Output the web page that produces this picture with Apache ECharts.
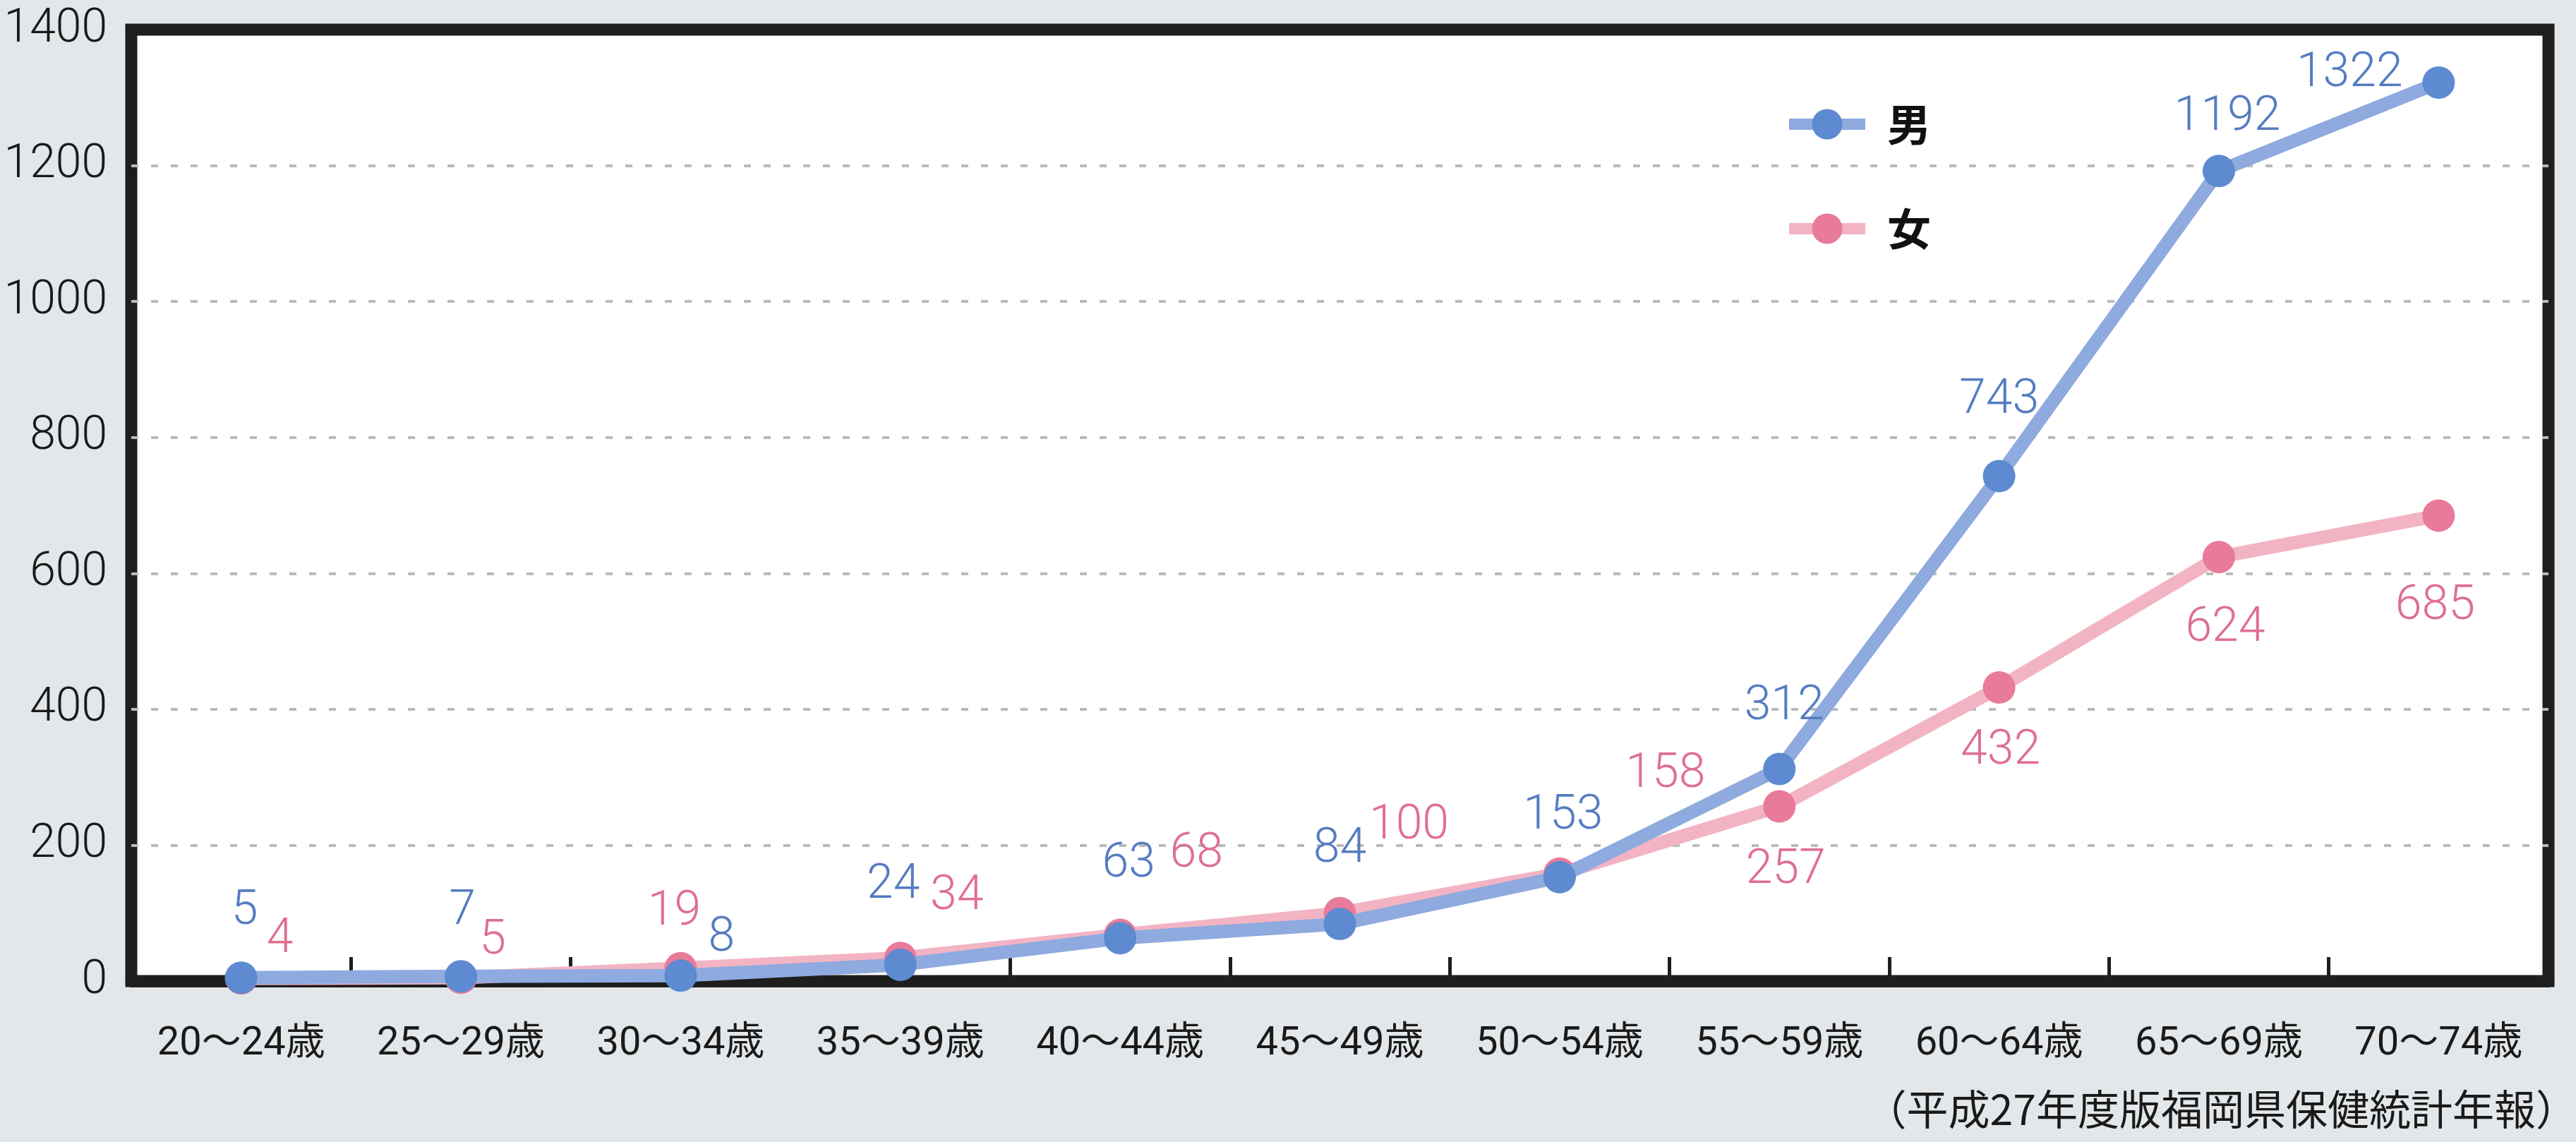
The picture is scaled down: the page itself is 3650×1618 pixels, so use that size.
<!DOCTYPE html>
<html>
<head>
<meta charset="utf-8">
<script src="https://cdn.jsdelivr.net/npm/echarts@6/dist/echarts.min.js"></script>
<style>
html,body{margin:0;padding:0;background:#e3e7ea;}
#chart{width:3650px;height:1618px;}
</style>
</head>
<body>
<div id="chart"></div>
<script>
const categories = ['20～24歳','25～29歳','30～34歳','35～39歳','40～44歳','45～49歳','50～54歳','55～59歳','60～64歳','65～69歳','70～74歳'];
const maleValues = [5, 7, 8, 24, 63, 84, 153, 312, 743, 1192, 1322];
const femaleValues = [4, 5, 19, 34, 68, 100, 158, 257, 432, 624, 685];
const yTicks = [0, 200, 400, 600, 800, 1000, 1200, 1400];
const sourceNote = '（平成27年度版福岡県保健統計年報）';

// label offsets (style only), in px relative to the point
const maleLabelOffsets = [[5,-93],[2,-91],[58,-52],[-10,-112],[12,-104],[0,-105],[5,-86],[7,-88],[0,-107],[12,-75],[-126,-12]];
const femaleLabelOffsets = [[55,-54],[45,-51],[-9,-79],[80,-86],[108,-114],[98,-123],[150,-140],[9,91],[2,91],[9,102],[-5,130]];

const NUM_FONT = 'Roboto,"Noto Sans",sans-serif';
const CJK_FONT = 'Roboto,"Noto Sans CJK JP",sans-serif';

function buildData(values, offsets) {
  return values.map((v, i) => ({
    value: v,
    label: { offset: offsets[i] }
  }));
}

const chart = echarts.init(document.getElementById('chart'));
chart.setOption({
  backgroundColor: '#e3e7ea',
  animation: false,
  grid: {
    left: 186, right: 39, top: 42, bottom: 228,
    show: true,
    backgroundColor: '#ffffff',
    borderColor: '#1e1e1e',
    borderWidth: 17
  },
  legend: {
    orient: 'vertical',
    left: 2522, top: 140,
    itemWidth: 108, itemHeight: 54, itemGap: 86,
    textStyle: { fontSize: 62, color: '#111', fontFamily: '"Noto Sans CJK JP",sans-serif', fontWeight: 'bold', padding: [0,0,0,26] },
    data: [
      { name: '男', lineStyle: { color: '#8eaadf', width: 16 }, itemStyle: { color: '#5d8ad0' } },
      { name: '女', lineStyle: { color: '#f2b4c3', width: 16 }, itemStyle: { color: '#e87a9a' } }
    ]
  },
  xAxis: {
    type: 'category',
    data: categories,
    boundaryGap: true,
    axisLine: { show: true, lineStyle: { color: '#1e1e1e', width: 17 } },
    axisTick: { show: true, inside: true, length: 34, lineStyle: { color: '#1e1e1e', width: 5 } },
    axisLabel: { fontSize: 56, color: '#1a1a1a', margin: 62, fontFamily: CJK_FONT },
    splitLine: { show: false }
  },
  yAxis: {
    type: 'value',
    min: yTicks[0], max: yTicks[yTicks.length - 1], interval: yTicks[1] - yTicks[0],
    axisLine: { show: false },
    axisTick: { show: false },
    axisLabel: { fontSize: 66, color: '#1a1a1a', margin: 34, fontFamily: NUM_FONT, fontWeight: 300, formatter: v => String(v) },
    splitLine: { show: true, showMinLine: false, showMaxLine: false, lineStyle: { color: '#b8babc', width: 4, type: [10, 18] } }
  },
  series: [
    {
      name: '女',
      type: 'line',
      data: buildData(femaleValues, femaleLabelOffsets),
      symbol: 'circle',
      symbolSize: 46,
      lineStyle: { color: '#f2b4c3', width: 19 },
      itemStyle: { color: '#e87a9a' },
      label: { show: true, position: 'inside', fontSize: 68, fontWeight: 300, color: '#df6f8f', fontFamily: NUM_FONT },
      z: 3
    },
    {
      name: '男',
      type: 'line',
      data: buildData(maleValues, maleLabelOffsets),
      symbol: 'circle',
      symbolSize: 46,
      lineStyle: { color: '#8eaadf', width: 19 },
      itemStyle: { color: '#5d8ad0' },
      label: { show: true, position: 'inside', fontSize: 68, fontWeight: 300, color: '#557cc2', fontFamily: NUM_FONT },
      z: 4
    }
  ],
  graphic: [
    {
      type: 'text',
      right: -2, top: 1542,
      style: { text: sourceNote, fontSize: 59, fill: '#1a1a1a', fontFamily: '"Noto Sans CJK JP",sans-serif' }
    }
  ]
});
</script>
</body>
</html>
